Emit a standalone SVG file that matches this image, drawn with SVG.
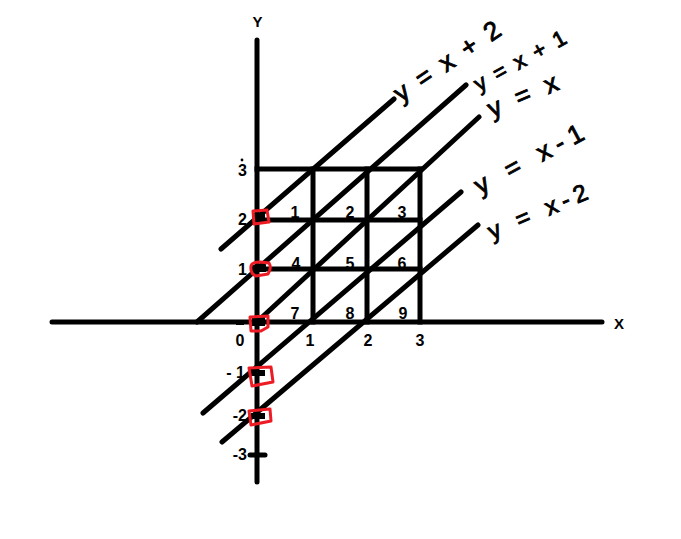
<svg xmlns="http://www.w3.org/2000/svg" width="681" height="539" viewBox="0 0 681 539">
<style>
.ln{stroke:#000;stroke-width:5;stroke-linecap:round;fill:none}
.gr{stroke:#000;stroke-width:5;stroke-linecap:square;fill:none}
.num{font-family:"Liberation Sans",Arial,sans-serif;font-weight:bold;font-size:16px;fill:#000}
.mid{text-anchor:middle}
.end{text-anchor:end}
.hw{font-family:"Liberation Sans",Arial,sans-serif;font-size:26px;fill:#000;stroke:#000;stroke-width:0.9}
.rb{stroke:#ed1c24;stroke-width:3;fill:none;stroke-linejoin:round}
.tk{fill:#000}
</style>
<rect width="681" height="539" fill="#fff"/>
<g id="connectors">
  <line class="ln" x1="257" y1="40" x2="257" y2="482"/>
  <line class="ln" x1="52" y1="322" x2="602" y2="322"/>
  <line class="gr" x1="257" y1="169" x2="420" y2="169"/>
  <line class="gr" x1="257" y1="220" x2="420" y2="220"/>
  <line class="gr" x1="257" y1="269" x2="420" y2="269"/>
  <line class="gr" x1="313" y1="169" x2="313" y2="322"/>
  <line class="gr" x1="367" y1="169" x2="367" y2="322"/>
  <line class="gr" x1="420" y1="169" x2="420" y2="322"/>
  <line class="ln" x1="221" y1="249" x2="394" y2="99"/>
  <line class="ln" x1="197" y1="322" x2="466" y2="85"/>
  <line class="ln" x1="259" y1="320" x2="479" y2="117"/>
  <line class="ln" x1="203" y1="413" x2="461" y2="192"/>
  <line class="ln" x1="222" y1="442" x2="478" y2="225"/>
  <line class="ln" x1="250" y1="455" x2="265" y2="455"/>
</g>
<g id="axis-labels">
  <text class="num mid" x="257.5" y="27" style="font-size:15px">Y</text>
  <text class="num" x="614" y="329" style="font-size:15px">X</text>
  <circle cx="242" cy="160" r="1.4" fill="#000"/>
  <text class="num end" x="247" y="176">3</text>
  <text class="num end" x="247" y="225">2</text>
  <text class="num end" x="247" y="275">1</text>
  <text class="num mid" x="240" y="346">0</text>
  <text class="num end" x="245" y="378">- 1</text>
  <text class="num end" x="247" y="421">-2</text>
  <text class="num end" x="247" y="460">-3</text>
  <text class="num mid" x="310" y="346">1</text>
  <text class="num mid" x="368" y="346">2</text>
  <text class="num mid" x="420" y="346">3</text>
  <rect class="tk" x="236" y="322" width="8" height="3"/>
</g>
<g id="cells">
  <text class="num mid" x="295" y="218">1</text>
  <text class="num mid" x="350" y="218">2</text>
  <text class="num mid" x="402" y="218">3</text>
  <text class="num mid" x="296" y="269">4</text>
  <text class="num mid" x="350" y="269">5</text>
  <text class="num mid" x="402" y="269">6</text>
  <text class="num mid" x="295" y="319">7</text>
  <text class="num mid" x="350" y="319">8</text>
  <text class="num mid" x="403" y="319">9</text>
</g>
<g id="markers">
  <rect class="tk" x="253" y="213" width="12" height="8"/>
  <path class="rb" d="M253,211 L267,210 L269,222 L254,224 Z"/>
  <rect class="tk" x="252" y="265" width="14" height="7"/>
  <path class="rb" d="M251,266 Q252,262 260,262 L269,263 Q272,268 268,274 L256,276 Q250,274 251,266 Z"/>
  <rect class="tk" x="252" y="318" width="13" height="8"/>
  <path class="rb" d="M250,317 L268,316 L268,327 L261,331 L251,331 Z"/>
  <rect class="tk" x="251" y="370" width="14" height="6"/>
  <path class="rb" d="M249,368 L271,367 L273,382 L252,386 Z"/>
  <rect class="tk" x="251" y="413" width="14" height="6"/>
  <path class="rb" d="M249,411 L270,409 L271,421 L251,425 Z"/>
</g>
<g id="line-labels">
  <text class="hw" transform="translate(401,103) rotate(-34)" textLength="123" lengthAdjust="spacing">y=x+2</text>
  <text class="hw" transform="translate(479,92) rotate(-29)" textLength="102" lengthAdjust="spacing" style="font-size:22px">y=x+1</text>
  <text class="hw" transform="translate(492,118) rotate(-23)" textLength="74" lengthAdjust="spacing">y=x</text>
  <text class="hw" transform="translate(480,195) rotate(-28)" textLength="120" lengthAdjust="spacing">y = x-1</text>
  <text class="hw" transform="translate(492,240) rotate(-23)" textLength="106" lengthAdjust="spacing" style="font-size:24px">y = x-2</text>
</g>
</svg>
